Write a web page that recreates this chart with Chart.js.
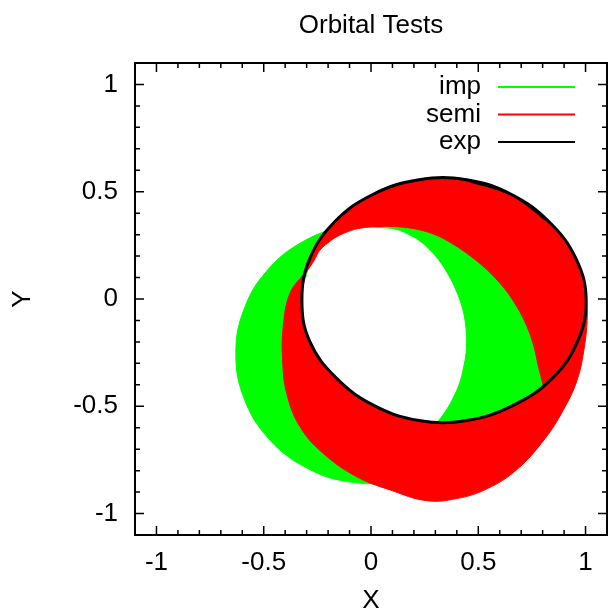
<!DOCTYPE html>
<html>
<head>
<meta charset="utf-8">
<script src="https://cdn.jsdelivr.net/npm/chart.js@4.4.1/dist/chart.umd.min.js"></script>
<style>
body { margin: 0; background: #fff; }
</style>
</head>
<body>
<canvas id="orbitChart" width="611" height="614"></canvas>
<script>
// ORBIT DATA (x/y in axis units)
// each filled band = outer edge, then the inner edge traced the other way
const impX = [0.45,0.45,0.72,0.85,0.82,0.76,0.64,0.47,0.25,0.05,-0.11,-0.315,-0.483,-0.592,-0.63,-0.592,-0.483,-0.315,-0.11,0.11,0.30,0.45,0.45,
  0.312,0.312,0.20,0.01,-0.175,-0.31,-0.347,-0.305,-0.28,-0.243,-0.20,-0.16,-0.105,-0.05,0.042,0.112,0.172,0.228,0.280,0.326,0.364,0.396,0.422,0.438,0.445,0.443,0.431,0.413,0.385,0.354,0.312,0.312,
  0.45];
const impY = [-0.62,-0.62,-0.52,-0.41,-0.22,-0.05,0.10,0.25,0.365,0.37,0.345,0.269,0.134,-0.048,-0.255,-0.462,-0.644,-0.779,-0.851,-0.845,-0.74,-0.62,-0.62,
  -0.572,-0.572,-0.595,-0.525,-0.39,-0.205,0.0,0.10,0.19,0.243,0.275,0.302,0.326,0.338,0.333,0.326,0.303,0.270,0.224,0.168,0.107,0.042,-0.028,-0.098,-0.177,-0.252,-0.322,-0.392,-0.457,-0.513,-0.572,-0.572,
  -0.62];

const semiX = [1.003,1.003,0.955,0.83,0.655,0.445,0.224,0.008,-0.169,-0.285,-0.31,-0.31,-0.378,-0.409,-0.412,-0.393,-0.331,-0.222,-0.067,0.089,0.26,0.40,0.54,0.68,0.81,0.895,0.96,0.995,1.008,1.003,1.003,
  0.695,0.695,0.732,0.76,0.781,0.805,0.805,0.66,0.445,0.224,0.015,-0.16,-0.285,-0.322,-0.305,-0.305,-0.265,-0.238,-0.20,-0.16,-0.105,-0.05,0.042,0.135,0.219,0.303,0.382,0.457,0.527,0.592,0.648,0.695,0.695,
  1.003];
const semiY = [-0.005,-0.005,0.189,0.36,0.487,0.556,0.556,0.487,0.36,0.189,0.12,0.12,0.026,-0.129,-0.284,-0.44,-0.595,-0.72,-0.828,-0.89,-0.94,-0.93,-0.885,-0.795,-0.652,-0.52,-0.38,-0.22,-0.08,-0.005,-0.005,
  -0.061,-0.061,-0.14,-0.224,-0.317,-0.41,-0.41,-0.497,-0.566,-0.566,-0.497,-0.37,-0.199,-0.005,0.12,0.12,0.18,0.228,0.262,0.29,0.315,0.33,0.338,0.336,0.324,0.298,0.256,0.205,0.149,0.084,0.014,-0.061,-0.061,
  -0.005];

const expX = [0.83,0.655,0.445,0.224,0.008,-0.169,-0.285,-0.322,-0.285,-0.16,0.015,0.224,0.445,0.66,0.845,0.962,1.003,0.955,0.83,0.655,0.445];
const expY = [0.36,0.487,0.556,0.556,0.487,0.36,0.189,-0.005,-0.199,-0.37,-0.497,-0.566,-0.566,-0.497,-0.37,-0.199,-0.005,0.189,0.36,0.487,0.556];

const seriesNames = ['imp', 'semi', 'exp'];
const seriesColors = ['#00ff00', '#ff0000', '#000000'];
const majorTicks = [-1, -0.5, 0, 0.5, 1];
const titleText = 'Orbital Tests';

const FONT = '"Liberation Sans", Arial, Helvetica, sans-serif';

function pts(xs, ys) {
  return xs.map((x, i) => ({ x: x, y: ys[i] }));
}

// box, inward ticks on all sides, title and key drawn in gnuplot style
const gnuplotFrame = {
  id: 'gnuplotFrame',
  afterDraw(chart) {
    const ctx = chart.ctx;
    const a = chart.chartArea;
    const sx = chart.scales.x;
    const sy = chart.scales.y;
    ctx.save();
    ctx.strokeStyle = '#000';
    ctx.lineWidth = 1.5;
    ctx.beginPath();
    sx.ticks.forEach(t => {
      if (Math.abs(t.value) > 1.001) return;
      const len = majorTicks.includes(t.value) ? 9 : 5;
      const p = sx.getPixelForValue(t.value);
      ctx.moveTo(p, a.bottom); ctx.lineTo(p, a.bottom - len);
      ctx.moveTo(p, a.top); ctx.lineTo(p, a.top + len);
    });
    sy.ticks.forEach(t => {
      if (Math.abs(t.value) > 1.001) return;
      const len = majorTicks.includes(t.value) ? 9 : 5;
      const p = sy.getPixelForValue(t.value);
      ctx.moveTo(a.left, p); ctx.lineTo(a.left + len, p);
      ctx.moveTo(a.right, p); ctx.lineTo(a.right - len, p);
    });
    ctx.stroke();
    ctx.lineWidth = 2;
    ctx.strokeRect(a.left, a.top, a.right - a.left, a.bottom - a.top);

    ctx.fillStyle = '#000';
    ctx.font = '26px ' + FONT;
    ctx.textAlign = 'center';
    ctx.textBaseline = 'alphabetic';
    ctx.fillText(titleText, (a.left + a.right) / 2, 33);

    ctx.textAlign = 'right';
    ctx.textBaseline = 'middle';
    chart.data.datasets.forEach((ds, i) => {
      const yy = a.top + 24 + i * 27.5;
      ctx.fillStyle = '#000';
      ctx.fillText(ds.label, a.right - 126, yy);
      ctx.strokeStyle = ds.borderColor;
      ctx.lineWidth = 2;
      ctx.beginPath();
      ctx.moveTo(a.right - 109, yy);
      ctx.lineTo(a.right - 32, yy);
      ctx.stroke();
    });
    ctx.restore();
  }
};

Chart.defaults.font.family = FONT;
Chart.defaults.font.size = 26;
Chart.defaults.color = '#000';

const axisBase = {
  type: 'linear',
  min: -1.1,
  max: 1.1,
  grid: { display: false, drawTicks: false },
  border: { display: false },
  ticks: {
    stepSize: 0.1,
    autoSkip: false,
    maxRotation: 0,
    callback: (v) => majorTicks.includes(v) ? String(v) : ''
  }
};

new Chart(document.getElementById('orbitChart'), {
  type: 'line',
  data: {
    datasets: [
      {
        label: seriesNames[0],
        data: pts(impX, impY),
        borderColor: seriesColors[0],
        backgroundColor: seriesColors[0],
        borderWidth: 1,
        fill: 'shape',
        tension: 0.4,
        pointRadius: 0,
        order: 3
      },
      {
        label: seriesNames[1],
        data: pts(semiX, semiY),
        borderColor: seriesColors[1],
        backgroundColor: seriesColors[1],
        borderWidth: 1,
        fill: 'shape',
        tension: 0.4,
        pointRadius: 0,
        order: 2
      },
      {
        label: seriesNames[2],
        data: pts(expX, expY),
        borderColor: seriesColors[2],
        borderWidth: 3,
        fill: false,
        tension: 0.4,
        pointRadius: 0,
        order: 1
      }
    ]
  },
  options: {
    responsive: false,
    devicePixelRatio: 1,
    animation: false,
    events: [],
    layout: { autoPadding: false, padding: { top: 63, right: 4, left: 0, bottom: 0 } },
    plugins: {
      legend: { display: false },
      title: { display: false },
      tooltip: { enabled: false }
    },
    scales: {
      x: Object.assign({}, axisBase, {
        position: 'bottom',
        ticks: Object.assign({}, axisBase.ticks, { padding: 12 }),
        title: { display: true, text: 'X', font: { size: 26, lineHeight: 1 }, padding: { top: 0, bottom: 0 } },
        afterFit: (s) => { s.height = 79; s.paddingLeft = 0; s.paddingRight = 0; }
      }),
      y: Object.assign({}, axisBase, {
        position: 'left',
        ticks: Object.assign({}, axisBase.ticks, { padding: 17 }),
        title: { display: true, text: 'Y', font: { size: 26, lineHeight: 1 }, padding: { top: 9.5, bottom: 0 } },
        afterFit: (s) => { s.width = 135; s.paddingTop = 0; s.paddingBottom = 0; }
      })
    }
  },
  plugins: [gnuplotFrame]
});
</script>
</body>
</html>
